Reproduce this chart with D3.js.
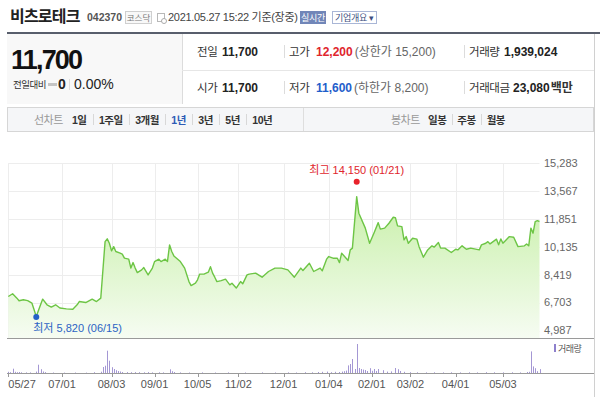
<!DOCTYPE html>
<html>
<head>
<meta charset="utf-8">
<script src="https://cdn.jsdelivr.net/npm/d3@7"></script>
<style>
body { margin: 0; background: #fff; }
svg text { font-family: "Liberation Sans", "Noto Sans CJK KR", sans-serif; }
</style>
</head>
<body>
<svg id="chart" width="600" height="397"></svg>
<script>
// trading-day index (0 = 05/27) and close price
const priceDays = [0,2,4,5,7,9,11,12,13,15,16,18,20,22,24,27,30,32,33,36,39,41,43,44,45,46,47,48,49,50,52,53,54,56,57,58,59,60,62,63,65,67,68,70,71,73,74,75,76,77,80,82,84,85,87,88,89,91,93,94,95,96,97,99,101,103,104,106,108,109,111,112,115,118,121,124,127,130,133,136,137,140,142,145,146,148,149,151,153,154,155,158,159,160,162,163,166,168,170,172,173,175,177,179,180,181,183,184,185,186,188,190,191,193,195,197,198,200,201,203,206,208,209,211,213,215,219,220,222,223,224,227,228,229,230,233,235,237,240,241,242,243,244,245,246,247];
const priceValues = [7080,7250,6980,6820,6880,6830,6670,6260,5850,6570,6920,6570,6430,6570,6370,6320,6300,6570,6770,6710,6920,6770,6980,8720,10460,10630,10360,9890,10150,9850,9750,9690,9440,9380,8830,9170,8830,8550,8720,8860,8410,8830,9230,9380,9230,9380,9230,10260,9850,9580,9230,8830,8000,7750,7900,8110,8460,8460,8580,8920,8520,8270,8000,8060,8150,7800,7900,7600,8000,7860,8410,8460,8520,8270,8620,8830,8830,8720,8270,8830,8680,9130,8620,8830,8660,9380,9540,9440,9440,9170,9750,9300,9950,10060,13230,12210,11290,10360,10980,11630,11230,11290,11590,11960,11940,11430,11380,10570,10770,10360,10670,10610,10150,9500,9950,10200,10120,10400,10060,10060,9790,9990,9950,10200,9990,10060,9950,10260,10360,10460,10320,10610,10260,10630,10360,10770,10730,10150,10200,10320,10200,11290,10980,11690,11750,11700];

// volume, thousand shares
const volDays = [0,1,2,3,4,5,6,8,10,13,14,15,16,17,21,26,31,36,40,43,44,45,46,47,48,49,50,51,52,53,55,57,59,61,63,65,67,70,72,75,76,77,80,84,90,96,102,110,118,124,130,134,138,141,144,146,148,150,152,154,155,156,157,158,159,160,161,162,163,164,165,166,167,168,169,170,171,172,174,176,178,180,181,182,184,187,190,194,198,202,206,210,214,218,222,226,230,234,238,241,242,243,244,245,246,247];
const volValues = [600,400,2150,600,400,500,350,300,300,700,4150,1900,750,450,250,200,250,200,400,650,3000,3650,11150,6150,2900,2000,1400,1000,750,500,450,400,450,400,350,450,300,350,300,1850,900,500,300,250,300,250,300,250,300,250,300,250,400,350,500,600,700,400,600,500,700,900,1200,3800,4500,7000,2000,14500,2500,2000,1700,1500,1000,2400,1100,2000,1000,2000,1400,700,800,2500,1900,1000,600,400,350,300,350,300,350,300,350,300,400,350,300,350,300,500,600,10800,3300,2400,900,1940];

const yTicks = [4987, 6703, 8419, 10135, 11851, 13567, 15283];
const xTickDays = [0, 25, 48, 68, 88, 107, 128, 149, 169, 187, 208, 230];
const xTickLabels = ['05/27','07/01','08/03','09/01','10/05','11/02','12/01','01/04','02/01','03/02','04/01','05/03'];

const highDay = 162, highValue = 14150, highLabel = '최고 14,150 (01/21)';
const lowDay = 13, lowValue = 5820, lowLabel = '최저 5,820 (06/15)';

const rangeTabs = ['1일','1주일','3개월','1년','3년','5년','10년'];
const candleTabs = ['일봉','주봉','월봉'];

const svg = d3.select('#chart');

// ---------- header ----------
svg.append('text').text('비츠로테크')
    .attr('x', 10).attr('y', 22)
    .style('font-family', '"Noto Sans CJK KR"')
    .style('font-size', '16px').style('font-weight', 'bold')
    .style('letter-spacing', '-0.8px').style('fill', '#222');
svg.append('text').text('042370')
    .attr('x', 87).attr('y', 21)
    .style('font-size', '10.5px').style('font-weight', 'bold').style('fill', '#555');

svg.append('rect').attr('x', 125.5).attr('y', 11.5).attr('width', 26).attr('height', 12)
    .attr('fill', '#f8f8f8').attr('stroke', '#cfcfcf');
svg.append('text').text('코스닥').attr('x', 138.5).attr('y', 20.5)
    .attr('text-anchor', 'middle')
    .style('font-size', '8.5px').style('fill', '#777');

// little calendar icon
svg.append('rect').attr('x', 157.5).attr('y', 13.5).attr('width', 7).attr('height', 8)
    .attr('fill', '#fff').attr('stroke', '#b8b8b8');
svg.append('circle').attr('cx', 164).attr('cy', 21).attr('r', 2.5)
    .attr('fill', '#fff').attr('stroke', '#aaa');

svg.append('text').text('2021.05.27 15:22 기준(장중)')
    .attr('x', 168).attr('y', 21)
    .style('font-size', '11px').style('fill', '#444')
    .style('letter-spacing', '-0.3px');

svg.append('rect').attr('x', 300).attr('y', 11).attr('width', 26).attr('height', 13)
    .attr('fill', '#7186b8');
svg.append('text').text('실시간').attr('x', 313).attr('y', 21)
    .attr('text-anchor', 'middle')
    .style('font-size', '9px').style('fill', '#fff').style('letter-spacing', '-0.3px');

svg.append('rect').attr('x', 332.5).attr('y', 11.5).attr('width', 44).attr('height', 12)
    .attr('fill', '#fff').attr('stroke', '#a9b6d6');
svg.append('text').text('기업개요 ▾').attr('x', 354.5).attr('y', 21)
    .attr('text-anchor', 'middle')
    .style('font-size', '9px').style('fill', '#3e4f80').style('letter-spacing', '-0.3px');

svg.append('rect').attr('x', 7).attr('y', 32).attr('width', 593).attr('height', 2)
    .attr('fill', '#585e6c');

// left price box
svg.append('rect').attr('x', 7).attr('y', 34).attr('width', 175).attr('height', 70)
    .attr('fill', '#f8f8f8');
svg.append('line').attr('x1', 182.5).attr('x2', 182.5).attr('y1', 34).attr('y2', 104)
    .attr('stroke', '#dcdcdc');
svg.append('text').text('11,700')
    .attr('x', 11).attr('y', 69)
    .style('font-size', '27px').style('font-weight', 'bold')
    .style('letter-spacing', '-1.8px').style('fill', '#111');
svg.append('text').text('전일대비')
    .attr('x', 13).attr('y', 88)
    .style('font-size', '9.5px').style('fill', '#333')
    .style('letter-spacing', '-0.5px');
svg.append('rect').attr('x', 48).attr('y', 83).attr('width', 9).attr('height', 3)
    .attr('fill', '#c4c4c4');
svg.append('text').text('0')
    .attr('x', 58).attr('y', 89)
    .style('font-size', '14px').style('font-weight', 'bold').style('fill', '#222');
svg.append('line').attr('x1', 69.5).attr('x2', 69.5).attr('y1', 79).attr('y2', 90)
    .attr('stroke', '#dcdcdc');
svg.append('text').text('0.00%')
    .attr('x', 74).attr('y', 89)
    .style('font-size', '14px').style('fill', '#222');

// right info rows
svg.append('line').attr('x1', 182).attr('x2', 594).attr('y1', 70.5).attr('y2', 70.5)
    .attr('stroke', '#e6e6e6');
[56, 92].forEach(function (ry) {
    [284.5, 464.5].forEach(function (sx) {
        svg.append('line').attr('x1', sx).attr('x2', sx)
            .attr('y1', ry - 11).attr('y2', ry + 2).attr('stroke', '#dcdcdc');
    });
});

function info(x, y, label, vx, value, color, extra) {
    svg.append('text').text(label).attr('x', x).attr('y', y)
        .style('font-size', '11.5px').style('fill', '#333')
        .style('letter-spacing', '-0.4px');
    const t = svg.append('text').attr('x', vx).attr('y', y);
    t.append('tspan').text(value)
        .style('font-size', '12px').style('font-weight', 'bold').style('fill', color);
    if (extra) {
        t.append('tspan').text(extra.text).attr('dx', extra.dx)
            .style('font-size', '12px').style('fill', extra.color)
            .style('font-weight', extra.bold ? 'bold' : 'normal');
    }
}
info(197, 56, '전일', 222, '11,700', '#222');
info(289, 56, '고가', 316, '12,200', '#e0262d', { text: '(상한가 15,200)', dx: 2, color: '#666' });
info(469, 56, '거래량', 504, '1,939,024', '#222');
info(197, 92, '시가', 222, '11,700', '#222');
info(289, 92, '저가', 316, '11,600', '#1f5ecb', { text: '(하한가 8,200)', dx: 2, color: '#666' });
info(469, 92, '거래대금', 513, '23,080', '#222', { text: '백만', dx: 1, color: '#333', bold: true });

// ---------- period tabs ----------
svg.append('rect').attr('x', 7.5).attr('y', 107.5).attr('width', 586).attr('height', 24)
    .attr('fill', '#f5f6f8').attr('stroke', '#d6d6d6');
svg.append('line').attr('x1', 303.5).attr('x2', 303.5).attr('y1', 108).attr('y2', 131)
    .attr('stroke', '#dedede');
svg.append('text').text('선차트').attr('x', 34).attr('y', 123.5)
    .style('font-size', '11px').style('fill', '#999').style('letter-spacing', '-0.5px');
svg.append('text').text('봉차트').attr('x', 391).attr('y', 123.5)
    .style('font-size', '11px').style('fill', '#999').style('letter-spacing', '-0.5px');

function tabRow(labels, x0, active, gap) {
    let x = x0;
    labels.forEach(function (lab, i) {
        const t = svg.append('text').text(lab).attr('x', x).attr('y', 123.5)
            .style('font-size', '10.5px').style('font-weight', 'bold')
            .style('letter-spacing', '-0.5px')
            .style('fill', lab === active ? '#2d5bb5' : '#333');
        const w = t.node().getComputedTextLength();
        if (i < labels.length - 1) {
            const sx = Math.round(x + w + gap / 2) + 0.5;
            svg.append('line').attr('x1', sx).attr('x2', sx)
                .attr('y1', 114).attr('y2', 125).attr('stroke', '#d8d8d8');
        }
        x += w + gap;
    });
}
tabRow(rangeTabs, 72, '1년', 12.5);
tabRow(candleTabs, 428, null, 11);

// right frame line
svg.append('line').attr('x1', 594.5).attr('x2', 594.5).attr('y1', 34).attr('y2', 397)
    .attr('stroke', '#d0d0d0');

// ---------- price chart ----------
const x = d3.scaleLinear().domain([0, 247]).range([8.3, 539.5]);
const y = d3.scaleLinear().domain([4987, 15283]).range([330.5, 163.3]);
const yVol = d3.scaleLinear().domain([0, 15000]).range([373, 343]);

const plotBottom = 338;
const data = priceDays.map(function (d, i) { return { day: d, value: priceValues[i] }; });

const grid = svg.append('g');
grid.selectAll('.hg').data(yTicks).enter().append('line')
    .attr('x1', x(0)).attr('x2', x(247))
    .attr('y1', function (d) { return Math.round(y(d)) + 0.5; })
    .attr('y2', function (d) { return Math.round(y(d)) + 0.5; })
    .attr('stroke', '#ededed');
grid.selectAll('.vg').data(xTickDays).enter().append('line')
    .attr('x1', function (d) { return Math.round(x(d)) + 0.5; })
    .attr('x2', function (d) { return Math.round(x(d)) + 0.5; })
    .attr('y1', y(15283)).attr('y2', plotBottom)
    .attr('stroke', '#ededed');

const defs = svg.append('defs');
const grad = defs.append('linearGradient').attr('id', 'fillGrad')
    .attr('gradientUnits', 'userSpaceOnUse')
    .attr('x1', 0).attr('x2', 0).attr('y1', 190).attr('y2', plotBottom);
grad.append('stop').attr('offset', '0%').attr('stop-color', '#c6efa6');
grad.append('stop').attr('offset', '100%').attr('stop-color', '#f6fcf2');

const area = d3.area()
    .x(function (d) { return x(d.day); })
    .y0(plotBottom)
    .y1(function (d) { return y(d.value); });
const line = d3.line()
    .x(function (d) { return x(d.day); })
    .y(function (d) { return y(d.value); });

svg.append('path').datum(data).attr('d', area).attr('fill', 'url(#fillGrad)');
svg.append('path').datum(data).attr('d', line)
    .attr('fill', 'none').attr('stroke', '#6dc545')
    .attr('stroke-width', 1.4).attr('stroke-linejoin', 'round');

svg.append('line').attr('x1', 7).attr('x2', 594).attr('y1', plotBottom + 0.5).attr('y2', plotBottom + 0.5)
    .attr('stroke', '#9a9a9a');

// y labels
svg.selectAll('.ylab').data(yTicks).enter().append('text')
    .attr('x', 544).attr('y', function (d) { return y(d); })
    .attr('dy', '0.35em')
    .text(d3.format(','))
    .style('font-size', '11px').style('fill', '#666');

// high / low markers
svg.append('circle').attr('cx', x(highDay)).attr('cy', y(highValue)).attr('r', 3).attr('fill', '#e8222b');
svg.append('text').text(highLabel).attr('x', x(highDay)).attr('y', y(highValue) - 8)
    .attr('text-anchor', 'middle')
    .style('font-size', '11px').style('fill', '#e0262d');
svg.append('circle').attr('cx', x(lowDay)).attr('cy', y(lowValue)).attr('r', 3).attr('fill', '#2461c8');
svg.append('text').text(lowLabel).attr('x', x(lowDay) - 3).attr('y', y(lowValue) + 15)
    .style('font-size', '11px').style('fill', '#2b63c4');

// ---------- volume ----------
svg.selectAll('.vol').data(volDays).enter().append('rect')
    .attr('x', function (d) { return Math.round(x(d)); })
    .attr('width', 1)
    .attr('y', function (d, i) { return yVol(volValues[i]); })
    .attr('height', function (d, i) { return yVol(0) - yVol(volValues[i]); })
    .attr('fill', '#a497d4');

svg.append('line').attr('x1', 7).attr('x2', 594).attr('y1', 373.5).attr('y2', 373.5)
    .attr('stroke', '#9a9a9a');

const xAxis = svg.append('g');
xAxis.selectAll('.tick').data(xTickDays).enter().append('line')
    .attr('x1', function (d) { return Math.round(x(d)) + 0.5; })
    .attr('x2', function (d) { return Math.round(x(d)) + 0.5; })
    .attr('y1', 373).attr('y2', 377)
    .attr('stroke', '#9a9a9a');
xAxis.selectAll('.xlab').data(xTickDays).enter().append('text')
    .attr('x', function (d) { return x(d); })
    .attr('y', 388)
    .attr('text-anchor', function (d) { return d === 0 ? 'start' : 'middle'; })
    .text(function (d, i) { return xTickLabels[i]; })
    .style('font-size', '11px').style('fill', '#555');

svg.append('rect').attr('x', 554).attr('y', 344).attr('width', 2).attr('height', 8).attr('fill', '#8e80cc');
svg.append('text').text('거래량').attr('x', 558).attr('y', 352)
    .style('font-size', '9px').style('fill', '#555').style('letter-spacing', '-0.5px');
</script>
</body>
</html>
